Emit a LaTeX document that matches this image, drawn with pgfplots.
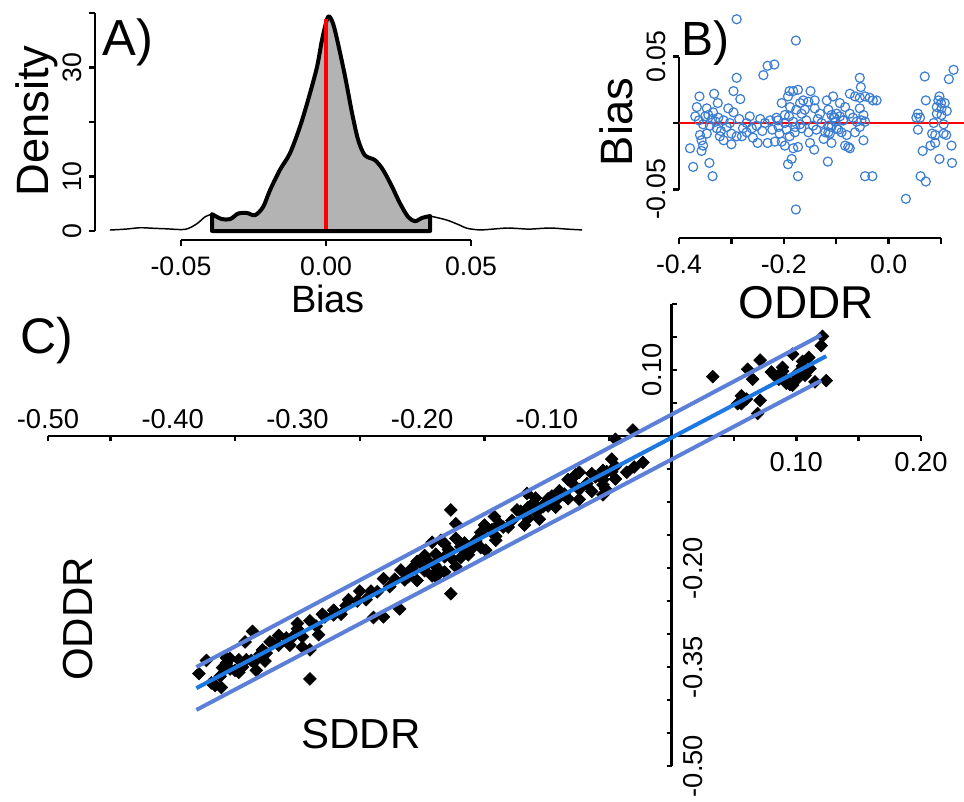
\documentclass[border=0pt]{standalone}
\usepackage{pgfplots}
\pgfplotsset{compat=1.18}
\usepackage{pgfplotstable}
\usepackage{fontspec}
\setmainfont{Liberation Sans}
\setsansfont{Liberation Sans}
\definecolor{bcirc}{RGB}{58,125,210}
\definecolor{lineout}{RGB}{92,128,216}
\definecolor{linemid}{RGB}{30,120,225}
\definecolor{fillgray}{RGB}{179,179,179}
\newcommand{\fs}[1]{\fontsize{#1}{#1}\selectfont}

% columns: x (SDDR/ODDR position), b (bias), y (= value on vertical axis of C)
\pgfplotstableread{
x b y
-0.290 0.078 -0.368
-0.290 0.034 -0.324
-0.239 0.036 -0.275
-0.231 0.043 -0.274
-0.218 0.044 -0.262
-0.296 0.024 -0.320
-0.283 0.018 -0.301
-0.361 0.020 -0.381
-0.333 0.022 -0.355
-0.326 0.015 -0.341
-0.366 0.012 -0.378
-0.369 0.005 -0.374
-0.347 0.011 -0.358
-0.335 0.008 -0.343
-0.296 0.008 -0.304
-0.350 0.005 -0.355
-0.337 0.003 -0.340
-0.325 0.004 -0.329
-0.315 0.002 -0.317
-0.303 0.000 -0.303
-0.354 -0.001 -0.353
-0.341 -0.002 -0.339
-0.328 -0.004 -0.324
-0.309 -0.003 -0.306
-0.271 0.000 -0.271
-0.261 -0.004 -0.257
-0.245 0.003 -0.248
-0.236 0.000 -0.236
-0.226 0.002 -0.228
-0.214 0.004 -0.218
-0.360 -0.009 -0.351
-0.347 -0.008 -0.339
-0.357 -0.013 -0.344
-0.354 -0.017 -0.337
-0.357 -0.021 -0.336
-0.379 -0.019 -0.360
-0.322 -0.010 -0.312
-0.315 -0.013 -0.302
-0.300 -0.008 -0.292
-0.290 -0.010 -0.280
-0.280 -0.010 -0.270
-0.271 -0.007 -0.264
-0.259 -0.011 -0.248
-0.250 -0.015 -0.235
-0.231 -0.015 -0.216
-0.217 -0.014 -0.203
-0.373 -0.033 -0.340
-0.342 -0.030 -0.312
-0.336 -0.040 -0.296
-0.210 -0.003 -0.207
-0.344 0.006 -0.350
-0.330 0.001 -0.331
-0.320 -0.006 -0.314
-0.285 0.003 -0.288
-0.278 -0.004 -0.274
-0.265 0.005 -0.270
-0.252 -0.002 -0.250
-0.241 -0.006 -0.235
-0.222 -0.005 -0.217
-0.362 0.002 -0.364
-0.306 0.011 -0.317
-0.300 -0.016 -0.284
-0.177 0.062 -0.239
-0.055 0.034 -0.089
-0.053 0.027 -0.080
-0.189 0.024 -0.213
-0.182 0.024 -0.206
-0.173 0.025 -0.198
-0.149 0.024 -0.173
-0.192 0.020 -0.212
-0.163 0.017 -0.180
-0.169 0.015 -0.184
-0.153 0.016 -0.169
-0.141 0.017 -0.158
-0.118 0.017 -0.135
-0.106 0.020 -0.126
-0.074 0.022 -0.096
-0.064 0.020 -0.084
-0.055 0.019 -0.074
-0.045 0.020 -0.065
-0.036 0.019 -0.055
-0.030 0.017 -0.047
-0.023 0.017 -0.040
-0.204 0.015 -0.219
-0.188 0.012 -0.200
-0.176 0.010 -0.186
-0.166 0.007 -0.173
-0.198 0.006 -0.204
-0.141 0.011 -0.152
-0.131 0.007 -0.138
-0.115 0.010 -0.125
-0.093 0.015 -0.108
-0.083 0.012 -0.095
-0.074 0.007 -0.081
-0.055 0.011 -0.066
-0.048 0.006 -0.054
-0.109 0.006 -0.115
-0.099 0.007 -0.106
-0.103 0.004 -0.107
-0.093 0.005 -0.098
-0.087 0.002 -0.089
-0.068 0.004 -0.072
-0.061 0.001 -0.062
-0.052 0.002 -0.054
-0.045 0.001 -0.046
-0.211 0.002 -0.213
-0.198 0.000 -0.198
-0.182 0.001 -0.183
-0.169 -0.001 -0.168
-0.157 0.002 -0.159
-0.144 -0.002 -0.142
-0.128 0.000 -0.128
-0.115 -0.002 -0.113
-0.208 -0.008 -0.200
-0.195 -0.005 -0.190
-0.189 -0.010 -0.179
-0.179 -0.007 -0.172
-0.166 -0.004 -0.162
-0.153 -0.007 -0.146
-0.138 -0.005 -0.133
-0.121 -0.007 -0.114
-0.112 -0.008 -0.104
-0.099 -0.004 -0.095
-0.090 -0.007 -0.083
-0.080 -0.009 -0.071
-0.064 -0.007 -0.057
-0.055 -0.003 -0.052
-0.204 -0.014 -0.190
-0.198 -0.017 -0.181
-0.182 -0.019 -0.163
-0.173 -0.018 -0.155
-0.150 -0.015 -0.135
-0.142 -0.020 -0.122
-0.124 -0.012 -0.112
-0.109 -0.015 -0.094
-0.083 -0.017 -0.066
-0.074 -0.019 -0.055
-0.048 -0.013 -0.035
-0.185 -0.027 -0.158
-0.192 -0.031 -0.161
-0.116 -0.029 -0.087
-0.173 -0.040 -0.133
-0.177 -0.065 -0.112
-0.045 -0.040 -0.005
-0.031 -0.040 0.009
-0.105 0.004 -0.109
-0.102 0.001 -0.103
-0.086 0.002 -0.088
-0.109 -0.003 -0.106
-0.096 -0.005 -0.091
-0.115 -0.007 -0.108
-0.077 -0.018 -0.059
-0.160 0.010 -0.170
-0.135 0.003 -0.138
-0.190 0.005 -0.195
-0.178 -0.003 -0.175
0.069 0.035 0.034
0.124 0.040 0.084
0.115 0.033 0.082
0.071 0.017 0.054
0.056 0.007 0.049
0.060 0.004 0.056
0.053 0.004 0.049
0.056 -0.005 0.061
0.097 0.020 0.077
0.095 0.017 0.078
0.100 0.015 0.085
0.092 0.012 0.080
0.107 0.015 0.092
0.101 0.011 0.090
0.111 0.009 0.102
0.092 0.007 0.085
0.101 0.006 0.095
0.086 0.000 0.086
0.105 -0.001 0.106
0.083 -0.008 0.091
0.089 -0.009 0.098
0.105 -0.008 0.113
0.110 -0.009 0.119
0.089 -0.015 0.104
0.080 -0.017 0.097
0.120 -0.017 0.137
0.065 -0.021 0.086
0.097 -0.027 0.124
0.121 -0.030 0.151
0.061 -0.040 0.101
0.071 -0.044 0.115
0.033 -0.057 0.090
}\ddrdata

\begin{document}
\begin{tikzpicture}
\path[use as bounding box] (0,0) rectangle (723pt,-600.75pt);

% ---------------- Panel A ----------------
\begin{axis}[
  at={(135.75pt,-173.25pt)}, anchor=south west,
  scale only axis, width=217.5pt, height=163.5pt,
  xmin=-0.05, xmax=0.05, ymin=0, ymax=40,
  clip=false, scaled ticks=false,
  axis lines*=left, tick pos=left,
  axis x line shift=6.75pt, axis y line shift=64.5pt,
  axis line style={line width=1.9pt},
  every tick/.style={black, line width=1.9pt},
  tick align=outside, major tick length=4.5pt,
  xtick={-0.05,0,0.05}, xticklabels={-0.05,0.00,0.05},
  ytick={0,10,20,30,40}, yticklabels={0,10,,30,},
  xticklabel style={font=\fs{20pt}, inner sep=0pt, anchor=north, yshift=-8pt},
  yticklabel style={font=\fs{20pt}, inner sep=0pt, xshift=-5pt, rotate=90, anchor=south},
]
\addplot[black, line width=1.1pt, smooth] coordinates {
(-0.0745,0.18) (-0.0690,0.35) (-0.0641,0.6) (-0.0595,0.5) (-0.0549,0.4) (-0.0486,0.3)
(-0.0446,1.3) (-0.0417,2.6) (-0.0393,3.1)};
\addplot[black, line width=1.1pt, smooth] coordinates {
(0.0359,2.75) (0.0417,2.0) (0.0460,1.1) (0.0486,0.5) (0.0530,0.2) (0.0575,0.35)
(0.0624,0.55) (0.0665,0.45) (0.0703,0.35) (0.0772,0.55) (0.0830,0.35) (0.0883,0.2)};
\addplot[draw=black, fill=fillgray, line width=3pt, line join=round, smooth, tension=0.5] coordinates {
(-0.0393,3.1) (-0.0360,2.2) (-0.0330,2.2) (-0.0303,3.2) (-0.0272,3.3) (-0.0245,2.9)
(-0.0217,4.4) (-0.0193,7.5) (-0.0159,11.2) (-0.0124,14.3) (-0.0090,19.1) (-0.0062,24.0)
(-0.0031,30.1) (-0.0014,35.0) (0.0007,39.3) (0.0024,38.1) (0.0041,34.5) (0.0066,28.3)
(0.0090,21.6) (0.0111,16.7) (0.0134,13.9) (0.0169,13.0) (0.0197,11.2) (0.0228,8.1)
(0.0255,5.1) (0.0283,2.6) (0.0307,1.8) (0.0331,2.4) (0.0359,2.75)} \closedcycle;
\addplot[red, line width=3pt] coordinates {(0,0.4) (0,38.9)};
\end{axis}

% ---------------- Panel B ----------------
\begin{axis}[
  at={(509.25pt,-142.125pt)}, anchor=south west,
  scale only axis, width=196.5pt, height=99.75pt,
  xmin=-0.4, xmax=0.1, ymin=-0.05, ymax=0.05,
  clip=false, scaled ticks=false,
  axis lines*=left, tick pos=left,
  axis x line shift=36.4pt, axis y line shift=0pt,
  axis line style={line width=1.9pt},
  every tick/.style={black, line width=1.9pt},
  tick align=outside, major tick length=4.5pt,
  xtick={-0.4,-0.3,-0.2,-0.1,0,0.1}, xticklabels={-0.4,,-0.2,,0.0,},
  ytick={-0.05,0,0.05}, yticklabels={-0.05,,0.05},
  xticklabel style={font=\fs{20pt}, inner sep=0pt, anchor=north, yshift=-8pt},
  yticklabel style={font=\fs{20pt}, inner sep=0pt, xshift=-5pt, rotate=90, anchor=south},
]
\addplot[only marks, mark=o, mark size=3.4pt, color=bcirc, mark options={line width=0.9pt}]
  table[x=x, y=b] {\ddrdata};
\addplot[red, line width=1.1pt] coordinates {(-0.4,0) (0.2,0)};
\end{axis}

% ---------------- Panel C: axes and points ----------------
\begin{axis}[
  at={(36pt,-574.5pt)}, anchor=south west,
  scale only axis, width=654.75pt, height=346.5pt,
  xmin=-0.5, xmax=0.2, ymin=-0.5, ymax=0.2,
  clip=false, scaled ticks=false,
  axis lines*=middle,
  axis line style={line width=1.9pt},
  every tick/.style={black, line width=1.9pt},
  tick align=outside, major tick length=3.75pt,
  xtick={-0.5,-0.45,-0.35,-0.25,-0.15,-0.05,0.05,0.10,0.15,0.20},
  ytick={-0.5,-0.45,-0.40,-0.35,-0.30,-0.25,-0.20,-0.15,-0.10,-0.05},
  extra y ticks={0.05,0.10,0.15,0.20},
  extra y tick style={tick align=inside},
  xticklabels={}, yticklabels={}, extra y tick labels={},
]
\addplot[only marks, mark=square*, mark size=3.4pt, color=black, mark options={rotate=45}]
  table[x=x, y=y] {\ddrdata};
\node[anchor=base, inner sep=0pt, font=\fs{20.5pt}] at (axis cs:-0.5,0.0121) {-0.50};
\node[anchor=base, inner sep=0pt, font=\fs{20.5pt}] at (axis cs:-0.4,0.0121) {-0.40};
\node[anchor=base, inner sep=0pt, font=\fs{20.5pt}] at (axis cs:-0.3,0.0121) {-0.30};
\node[anchor=base, inner sep=0pt, font=\fs{20.5pt}] at (axis cs:-0.2,0.0121) {-0.20};
\node[anchor=base, inner sep=0pt, font=\fs{20.5pt}] at (axis cs:-0.1,0.0121) {-0.10};
\node[anchor=base, inner sep=0pt, font=\fs{20.5pt}] at (axis cs:0.10,-0.0545) {0.10};
\node[anchor=base, inner sep=0pt, font=\fs{20.5pt}] at (axis cs:0.20,-0.0545) {0.20};
\node[anchor=base, inner sep=0pt, rotate=90, font=\fs{20.5pt}] at (axis cs:-0.0084,0.10) {0.10};
\node[anchor=base, inner sep=0pt, rotate=90, font=\fs{20.5pt}] at (axis cs:0.0249,-0.20) {-0.20};
\node[anchor=base, inner sep=0pt, rotate=90, font=\fs{20.5pt}] at (axis cs:0.0249,-0.35) {-0.35};
\node[anchor=base, inner sep=0pt, rotate=90, font=\fs{20.5pt}] at (axis cs:0.0249,-0.50) {-0.50};
\end{axis}

% ---------------- Panel C: fitted line and bounds, drawn on top ----------------
\begin{axis}[
  at={(36pt,-574.5pt)}, anchor=south west,
  scale only axis, width=654.75pt, height=346.5pt,
  xmin=-0.5, xmax=0.2, ymin=-0.5, ymax=0.2,
  clip=false, axis lines=none,
]
\addplot[lineout, line width=3pt] coordinates {(-0.381,-0.350) (0.120,0.153)};
\addplot[lineout, line width=3pt] coordinates {(-0.381,-0.415) (0.120,0.084)};
\addplot[linemid, line width=3pt] coordinates {(-0.381,-0.382) (0.124,0.121)};
\end{axis}

% ---------------- Titles and axis titles ----------------
\begin{scope}[x=0.75pt, y=-0.75pt]
\node[anchor=base west, inner sep=0pt, font=\fs{38pt}] at (102,55) {A)};
\node[anchor=base west, inner sep=0pt, font=\fs{36pt}] at (681,55) {B)};
\node[anchor=base west, inner sep=0pt, font=\fs{37.5pt}] at (20,353) {C)};
\node[rotate=90, anchor=base, inner sep=0pt, font=\fs{34pt}] at (48,121) {Density};
\node[anchor=base, inner sep=0pt, font=\fs{28.5pt}] at (328,312) {Bias};
\node[rotate=90, anchor=base, inner sep=0pt, font=\fs{34pt}] at (632,122) {Bias};
\node[anchor=base, inner sep=0pt, font=\fs{34.5pt}] at (806,318) {ODDR};
\node[rotate=90, anchor=base, inner sep=0pt, font=\fs{31.5pt}] at (92,619) {ODDR};
\node[anchor=base, inner sep=0pt, font=\fs{31.5pt}] at (361,748) {SDDR};
\end{scope}
\end{tikzpicture}
\end{document}
